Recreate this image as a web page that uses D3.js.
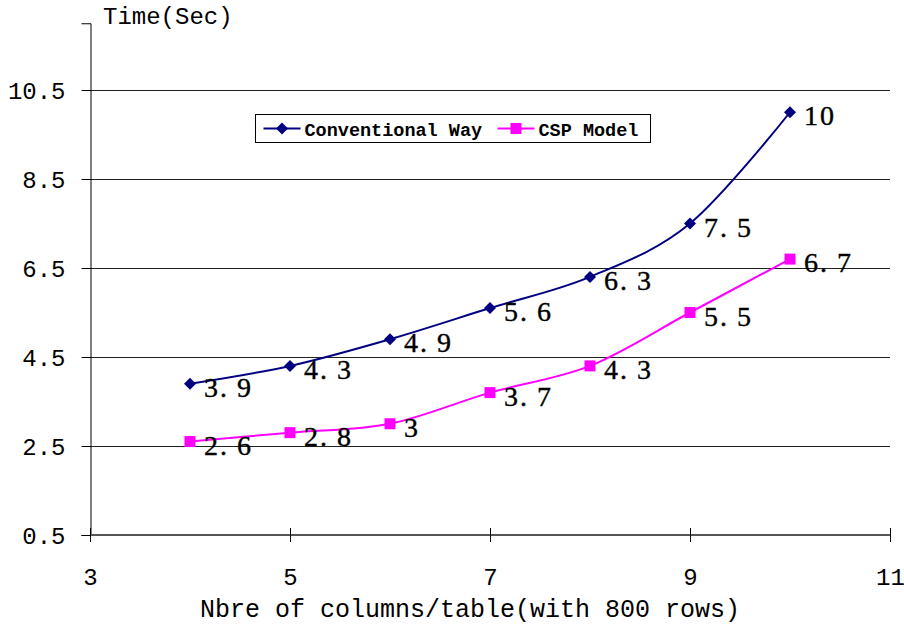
<!DOCTYPE html>
<html>
<head>
<meta charset="utf-8">
<script src="https://cdn.jsdelivr.net/npm/d3@7/dist/d3.min.js"></script>
<style>
  html, body { margin: 0; padding: 0; background: #fff; }
  svg { display: block; }
  .axis text { font-family: "Liberation Mono", monospace; fill: #000; }
</style>
</head>
<body>
<svg id="chart" width="904" height="627"></svg>
<script>
// Measurements: columns per table (800 rows) vs. processing time
const columns = [4, 5, 6, 7, 8, 9, 10];
const conventionalWay = [3.9, 4.3, 4.9, 5.6, 6.3, 7.5, 10];
const cspModel = [2.6, 2.8, 3, 3.7, 4.3, 5.5, 6.7];
const yTicks = [0.5, 2.5, 4.5, 6.5, 8.5, 10.5];
const xTicks = [3, 5, 7, 9, 11];
const seriesNames = ["Conventional Way", "CSP Model"];

const svg = d3.select("#chart");
const plotLeft = 90, plotRight = 890, plotTop = 23.25, plotBottom = 535;

const x = d3.scaleLinear().domain([3, 11]).range([plotLeft, plotRight]);
const y = d3.scaleLinear().domain([0.5, 12]).range([plotBottom, plotTop]);

// horizontal gridlines
svg.append("g")
  .selectAll("line")
  .data(yTicks.slice(1))
  .join("line")
  .attr("x1", plotLeft).attr("x2", plotRight)
  .attr("y1", d => Math.round(y(d)) + 0.5).attr("y2", d => Math.round(y(d)) + 0.5)
  .attr("stroke", "#222").attr("stroke-width", 1);

// y axis
const yAxis = svg.append("g")
  .attr("class", "axis")
  .attr("transform", `translate(${plotLeft + 0.5},0)`)
  .call(d3.axisLeft(y).tickValues(yTicks).tickFormat(d3.format(".1f"))
        .tickSize(9).tickPadding(16));
yAxis.select(".domain").attr("stroke", "#000");
yAxis.selectAll(".tick line").attr("stroke", "#000");
yAxis.selectAll(".tick text").attr("font-size", 24).attr("dy", "0.36em");

// x axis: ticks cross the baseline
const xAxis = svg.append("g")
  .attr("class", "axis")
  .attr("transform", `translate(0,${plotBottom})`)
  .call(d3.axisBottom(x).tickValues(xTicks).tickFormat(d3.format("d"))
        .tickSize(7).tickPadding(26));
xAxis.select(".domain").remove();
xAxis.selectAll(".tick line").attr("y1", -7).attr("stroke", "#000");
xAxis.selectAll(".tick text").attr("font-size", 24);
xAxis.insert("line", ":first-child")
  .attr("x1", plotLeft).attr("x2", plotRight)
  .attr("y1", 0).attr("y2", 0)
  .attr("stroke", "#555").attr("stroke-width", 2);

// axis titles
svg.append("text")
  .attr("x", 103).attr("y", 24)
  .attr("font-family", "Liberation Mono, monospace")
  .attr("font-size", 24)
  .text("Time(Sec)");
svg.append("text")
  .attr("x", (plotLeft + plotRight) / 2 - 20).attr("y", 617)
  .attr("text-anchor", "middle")
  .attr("font-family", "Liberation Mono, monospace")
  .attr("font-size", 25)
  .text("Nbre of columns/table(with 800 rows)");

const line = d3.line()
  .x(d => x(d[0])).y(d => y(d[1]))
  .curve(d3.curveCardinal.tension(0));

// diamond = square turned by 45 degrees
const series = [
  { name: seriesNames[0], values: conventionalWay, color: "#000080", shape: d3.symbolSquare, size: 72, rotate: 45 },
  { name: seriesNames[1], values: cspModel, color: "#FF00FF", shape: d3.symbolSquare, size: 121, rotate: 0 }
];

series.forEach(s => {
  const pts = columns.map((c, i) => [c, s.values[i]]);
  svg.append("path")
    .attr("d", line(pts))
    .attr("fill", "none")
    .attr("stroke", s.color)
    .attr("stroke-width", 2);
  svg.append("g").selectAll("path")
    .data(pts).join("path")
    .attr("transform", d => `translate(${x(d[0])},${y(d[1])}) rotate(${s.rotate})`)
    .attr("d", d3.symbol(s.shape, s.size))
    .attr("fill", s.color);
  // value labels: integer part with the point, then a gap before the decimal
  const labels = svg.append("g").selectAll("text")
    .data(pts).join("text")
    .attr("x", d => x(d[0]) + 14)
    .attr("y", d => y(d[1]) + 13)
    .attr("font-family", "Liberation Serif, serif")
    .attr("font-size", 28)
    .attr("letter-spacing", 2)
    .attr("fill", "#000")
    .attr("stroke", "#000")
    .attr("stroke-width", 0.4);
  labels.each(function (d) {
    const t = d3.select(this);
    if (Number.isInteger(d[1])) {
      t.text(String(d[1]));
    } else {
      const [whole, frac] = d[1].toFixed(1).split(".");
      t.append("tspan").text(whole + ".");
      t.append("tspan").attr("dx", 8).text(frac);
    }
  });
});

// legend
const legend = svg.append("g").attr("transform", "translate(255.5,114.5)");
legend.append("rect")
  .attr("width", 395).attr("height", 28)
  .attr("fill", "#fff").attr("stroke", "#000").attr("stroke-width", 1);
const legendItems = [
  { offset: 8, textX: 49, s: series[0] },
  { offset: 242, textX: 283, s: series[1] }
];
legendItems.forEach(it => {
  legend.append("line")
    .attr("x1", it.offset).attr("x2", it.offset + 37)
    .attr("y1", 14).attr("y2", 14)
    .attr("stroke", it.s.color).attr("stroke-width", 2);
  legend.append("path")
    .attr("transform", `translate(${it.offset + 18.5},14) rotate(${it.s.rotate})`)
    .attr("d", d3.symbol(it.s.shape, it.s.size))
    .attr("fill", it.s.color);
  legend.append("text")
    .attr("x", it.textX).attr("y", 21)
    .attr("font-family", "Liberation Mono, monospace")
    .attr("font-size", 18.5)
    .attr("font-weight", "bold")
    .text(it.s.name);
});
</script>
</body>
</html>
